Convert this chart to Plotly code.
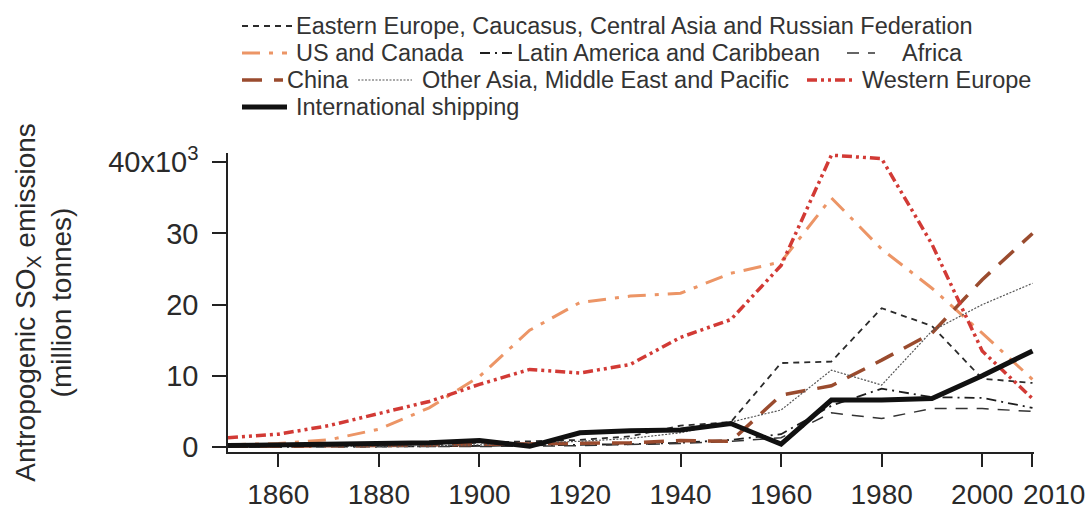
import plotly.graph_objects as go

# Decadal anthropogenic SOx emissions by region (10^3 units on the axis)
years = [1850, 1860, 1870, 1880, 1890, 1900, 1910, 1920, 1930,
         1940, 1950, 1960, 1970, 1980, 1990, 2000, 2010]

eastern_europe = [100, 150, 200, 300, 400, 600, 800, 1000, 1500,
                  3000, 3500, 11800, 12000, 19500, 17000, 9600, 9000]
us_canada = [300, 500, 1000, 2500, 5500, 9900, 16400, 20300, 21200,
             21600, 24400, 26000, 35000, 27800, 22300, 16000, 9500]
latin_america = [0, 0, 50, 100, 100, 150, 200, 300, 400,
                 600, 1000, 1800, 5800, 8200, 7000, 6900, 5500]
africa = [0, 0, 0, 50, 50, 100, 100, 200, 300,
          500, 800, 1300, 4800, 4000, 5400, 5400, 5000]
china = [100, 100, 200, 200, 300, 400, 400, 500, 600,
         900, 800, 7300, 8600, 12200, 16000, 23500, 30000]
other_asia = [50, 50, 100, 100, 150, 300, 500, 800, 1200,
              2000, 3500, 5200, 10800, 8700, 16300, 20000, 23000]
western_europe = [1300, 1800, 3000, 4700, 6400, 8800, 10900, 10400, 11600,
                  15400, 17900, 25500, 41000, 40500, 28500, 13500, 6800]
shipping = [200, 300, 350, 500, 600, 900, 100, 2000, 2300,
            2400, 3300, 400, 6600, 6600, 6800, 10000, 13500]

x_tick_vals = [1860, 1880, 1900, 1920, 1940, 1960, 1980, 2000, 2010]
x_tick_text = ["1860", "1880", "1900", "1920", "1940", "1960", "1980", "2000", ""]
end_year_label = "2010"  # written beside its tick, clear of "2000"
y_tick_vals = [0, 10000, 20000, 30000, 40000]
y_tick_text = ["0", "10", "20", "30", "40x10<sup>3</sup>"]

FONT = "Liberation Sans, Arial, sans-serif"
W, H = 1088, 510
M_L, M_R, M_T, M_B = 228, 54, 153, 58

# name, values, colour, width, dash, legend row, sample x0, sample x1, text x
series = [
    ("Eastern Europe, Caucasus, Central Asia and Russian Federation", eastern_europe,
     "#2b2b2b", 1.8, "6px,5px", 0, 242, 292, 297),
    ("US and Canada", us_canada, "#ec9566", 3.0, "18px,9px,4px,9px", 1, 242, 287, 297),
    ("Latin America and Caribbean", latin_america, "#1e1e1e", 1.8, "10px,5px,2px,5px", 1, 480, 513, 518),
    ("Africa", africa, "#333333", 1.5, "12px,9px", 1, 847, 875, 903),
    ("China", china, "#9a4b2e", 3.5, "20px,12px", 2, 242, 283, 288),
    ("Other Asia, Middle East and Pacific", other_asia, "#555555", 1.2, "2px,1.5px", 2, 358, 412, 423),
    ("Western Europe", western_europe, "#d23a35", 3.5, "10px,4px,3px,4px,3px,4px", 2, 807, 853, 863),
    ("International shipping", shipping, "#111111", 5.0, "solid", 3, 242, 287, 297),
]
row_y = [26, 53, 80, 107]

plot_w = W - M_L - M_R
plot_h = H - M_T - M_B


def px_to_paper(px, py):
    return (px - M_L) / plot_w, (H - M_B - py) / plot_h


fig = go.Figure()
shapes = []
annotations = []
for name, vals, color, width, dash, row, sx0, sx1, tx in series:
    fig.add_trace(go.Scatter(
        x=years, y=vals, mode="lines", name=name,
        line=dict(color=color, width=width, dash=dash),
        showlegend=False,
    ))
    x0, yy = px_to_paper(sx0, row_y[row])
    x1, _ = px_to_paper(sx1, row_y[row])
    shapes.append(dict(type="line", xref="paper", yref="paper",
                       x0=x0, x1=x1, y0=yy, y1=yy,
                       line=dict(color=color, width=width, dash=dash)))
    tx_p, _ = px_to_paper(tx - 2, row_y[row])
    annotations.append(dict(text=name, xref="paper", yref="paper",
                            x=tx_p, y=yy, xanchor="left", yanchor="middle",
                            showarrow=False, borderpad=0,
                            font=dict(family=FONT, size=23.5, color="#333333")))

# label for the final tick, nudged right of the tick mark
lx, ly = px_to_paper(1022, 494)
annotations.append(dict(text=end_year_label, xref="paper", yref="paper",
                        x=lx, y=ly, xanchor="left", yanchor="middle",
                        showarrow=False, borderpad=0,
                        font=dict(family=FONT, size=28, color="#2a2a2a")))

fig.update_layout(
    width=W, height=H,
    margin=dict(l=M_L, r=M_R, t=M_T, b=M_B, pad=0),
    paper_bgcolor="white", plot_bgcolor="white",
    font=dict(family=FONT, color="#2a2a2a"),
    shapes=shapes, annotations=annotations,
    xaxis=dict(range=[1850, 2010.3], tickvals=x_tick_vals, ticktext=x_tick_text,
               tickangle=0, automargin=False,
               showgrid=False, zeroline=False, showline=True,
               linecolor="#222222", linewidth=1.5,
               ticks="outside", ticklen=13, tickwidth=1.5, tickcolor="#222222",
               tickfont=dict(family=FONT, size=28, color="#2a2a2a"),
               ticklabelstandoff=4),
    yaxis=dict(range=[-700, 41300], tickvals=y_tick_vals, ticktext=y_tick_text,
               automargin=False,
               showgrid=False, zeroline=False, showline=True,
               linecolor="#222222", linewidth=1.5,
               ticks="outside", ticklen=14, tickwidth=1.5, tickcolor="#222222",
               tickfont=dict(family=FONT, size=29, color="#2a2a2a"),
               ticklabelstandoff=8,
               title=dict(text="Antropogenic SO<sub>X</sub> emissions<br>(million tonnes)",
                          font=dict(family=FONT, size=28, color="#2a2a2a"),
                          standoff=28)),
)

fig.write_html("out.html")
